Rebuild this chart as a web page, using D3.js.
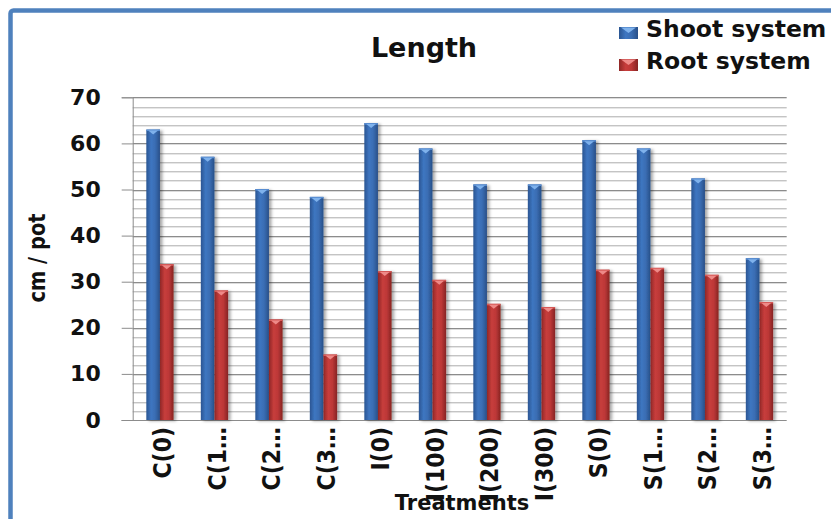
<!DOCTYPE html>
<html>
<head>
<meta charset="utf-8">
<script src="https://cdn.jsdelivr.net/npm/d3@7"></script>
<style>
  html, body { margin: 0; padding: 0; background: #fff; }
  svg { display: block; }
</style>
</head>
<body>
<script>
// Length of shoot and root systems per treatment (cm / pot)
const categories = ["C(0)", "C(100)", "C(200)", "C(300)", "I(0)", "I(100)", "I(200)", "I(300)", "S(0)", "S(100)", "S(200)", "S(300)"];
const tickLabels = ["C(0)", "C(1\u2026", "C(2\u2026", "C(3\u2026", "I(0)", "I(100)", "I(200)", "I(300)", "S(0)", "S(1\u2026", "S(2\u2026", "S(3\u2026"];
const seriesNames = ["Shoot system", "Root system"];
const shootValues = [63.0, 57.1, 50.1, 48.4, 64.4, 58.9, 51.1, 51.1, 60.7, 58.9, 52.4, 35.1];
const rootValues  = [33.8, 28.1, 21.8, 14.2, 32.3, 30.4, 25.2, 24.5, 32.6, 33.0, 31.5, 25.6];
const yMajorTicks = [0, 10, 20, 30, 40, 50, 60, 70];

const W = 831, H = 519;
const plot = { left: 132.7, right: 786.7, top: 97.3, bottom: 420 };
const FONT = "DejaVu Sans";

const svg = d3.select("body").append("svg")
  .attr("width", W).attr("height", H);

const defs = svg.append("defs");

// cylinder-like shading for the bars
function barGradient(id, stops) {
  const g = defs.append("linearGradient").attr("id", id)
    .attr("x1", "0%").attr("x2", "100%").attr("y1", "0%").attr("y2", "0%");
  stops.forEach(([o, c]) => g.append("stop").attr("offset", o).attr("stop-color", c));
}
barGradient("gBlue", [["0%", "#2a5592"], ["35%", "#3e76c1"], ["65%", "#3a6db3"], ["100%", "#284f88"]]);
barGradient("gRed",  [["0%", "#8f2726"], ["35%", "#c73d3c"], ["65%", "#bd3837"], ["100%", "#872423"]]);

const shadow = defs.append("filter").attr("id", "shadow")
  .attr("x", "-50%").attr("y", "-10%").attr("width", "200%").attr("height", "120%");
shadow.append("feDropShadow").attr("dx", 2.5).attr("dy", 1).attr("stdDeviation", 1.6)
  .attr("flood-color", "#000").attr("flood-opacity", 0.35);

// outer frame
svg.append("rect")
  .attr("x", 10.5).attr("y", 10.5).attr("width", 900).attr("height", 600).attr("rx", 3)
  .attr("fill", "#fff").attr("stroke", "#4f81bd").attr("stroke-width", 4.5);

// scales
const x0 = d3.scaleBand().domain(categories).range([plot.left, plot.right]).padding(0);
const x1 = d3.scaleBand().domain(seriesNames)
  .range([x0.bandwidth() * 0.25, x0.bandwidth() * 0.75]).padding(0);
const y = d3.scaleLinear().domain([0, 70]).range([plot.bottom, plot.top]);

// gridlines: minor every 2, major every 10
const minor = d3.range(2, 70, 2).filter(v => v % 10 !== 0);
const grid = svg.append("g");
minor.forEach(v => {
  const yy = Math.round(y(v)) + 0.5;
  grid.append("line").attr("x1", plot.left).attr("x2", plot.right)
    .attr("y1", yy + 1).attr("y2", yy + 1).attr("stroke", "#e6e6e6");
  grid.append("line").attr("x1", plot.left).attr("x2", plot.right)
    .attr("y1", yy).attr("y2", yy).attr("stroke", "#c4c4c4");
});
yMajorTicks.filter(v => v > 0).forEach(v => {
  const yy = Math.round(y(v)) + 0.5;
  grid.append("line").attr("x1", plot.left).attr("x2", plot.right)
    .attr("y1", yy + 1).attr("y2", yy + 1).attr("stroke", "#dcdcdc");
  grid.append("line").attr("x1", plot.left).attr("x2", plot.right)
    .attr("y1", yy).attr("y2", yy).attr("stroke", "#8c8c8c");
});

// y axis
const yAxis = d3.axisLeft(y).tickValues(yMajorTicks).tickSize(11).tickPadding(21)
  .tickFormat(d3.format("d"));
const yg = svg.append("g").attr("transform", `translate(${plot.left},0)`).call(yAxis);
yg.select(".domain").attr("stroke", "#8c8c8c");
yg.selectAll(".tick line").attr("stroke", "#8c8c8c");
yg.selectAll(".tick text")
  .attr("font-family", FONT).attr("font-weight", "bold")
  .attr("font-size", 22).attr("fill", "#111");

// x axis: category labels, rotated
const xAxis = d3.axisBottom(x0).tickSize(0).tickFormat((d, i) => tickLabels[i]);
const xg = svg.append("g").attr("transform", `translate(0,${plot.bottom})`).call(xAxis);
xg.select(".domain").remove();
svg.append("line")
  .attr("x1", plot.left - 11).attr("x2", plot.right)
  .attr("y1", plot.bottom + 0.5).attr("y2", plot.bottom + 0.5)
  .attr("stroke", "#8c8c8c");
xg.selectAll(".tick text")
  .attr("font-family", FONT).attr("font-weight", "bold")
  .attr("font-size", 22).attr("fill", "#111")
  .attr("text-anchor", "end")
  .attr("y", 0).attr("dy", "0.33em")
  .attr("transform", "translate(3,7) rotate(-90) scale(1,1.12)");

// bars
const rows = categories.map((c, i) => ({ cat: c, vals: [shootValues[i], rootValues[i]] }));
const fills = ["url(#gBlue)", "url(#gRed)"];
const tips = ["#7fb2ec", "#ee8a88"];
const rims = ["#5a8fd3", "#d75a58"];

const groups = svg.append("g").selectAll("g").data(rows).join("g")
  .attr("transform", d => `translate(${x0(d.cat)},0)`);

groups.each(function(d) {
  const g = d3.select(this);
  d.vals.forEach((v, k) => {
    const bx = x1(seriesNames[k]);
    const bw = x1.bandwidth();
    const top = y(v);
    g.append("rect")
      .attr("x", bx).attr("y", top).attr("width", bw).attr("height", y(0) - top)
      .attr("fill", fills[k]).attr("filter", "url(#shadow)");
    g.append("rect")
      .attr("x", bx).attr("y", top).attr("width", bw).attr("height", 1.5)
      .attr("fill", rims[k]);
    g.append("path")
      .attr("d", `M${bx + 2},${top + 1} L${bx + bw - 2},${top + 1} L${bx + bw / 2},${top + 5} Z`)
      .attr("fill", tips[k]);
  });
});

// title
svg.append("text").attr("x", 424).attr("y", 57).attr("text-anchor", "middle")
  .attr("font-family", FONT).attr("font-weight", "bold")
  .attr("font-size", 27).attr("fill", "#111").text("Length");

// y axis title
svg.append("text").attr("transform", "translate(45,258) rotate(-90) scale(1,1.2)")
  .attr("text-anchor", "middle")
  .attr("font-family", FONT).attr("font-weight", "bold")
  .attr("font-size", 19.5).attr("fill", "#111")
  .text("cm / pot");

// x axis title
svg.append("text").attr("x", 462).attr("y", 510).attr("text-anchor", "middle")
  .attr("font-family", FONT).attr("font-weight", "bold")
  .attr("font-size", 21).attr("fill", "#111")
  .text("Treatments");

// legend
const legend = svg.append("g");
const keyFills = ["url(#gBlue)", "url(#gRed)"];
seriesNames.forEach((name, k) => {
  const ly = 37 + k * 32;
  legend.append("rect").attr("x", 619).attr("y", ly - 10).attr("width", 19).attr("height", 12)
    .attr("fill", keyFills[k]);
  legend.append("path")
    .attr("d", `M621,${ly - 9.5} L636,${ly - 9.5} L628.5,${ly - 4} Z`)
    .attr("fill", tips[k]);
  legend.append("text").attr("x", 646).attr("y", ly)
    .attr("font-family", FONT).attr("font-weight", "bold")
    .attr("font-size", 23.5).attr("fill", "#111").text(name);
});
</script>
</body>
</html>
